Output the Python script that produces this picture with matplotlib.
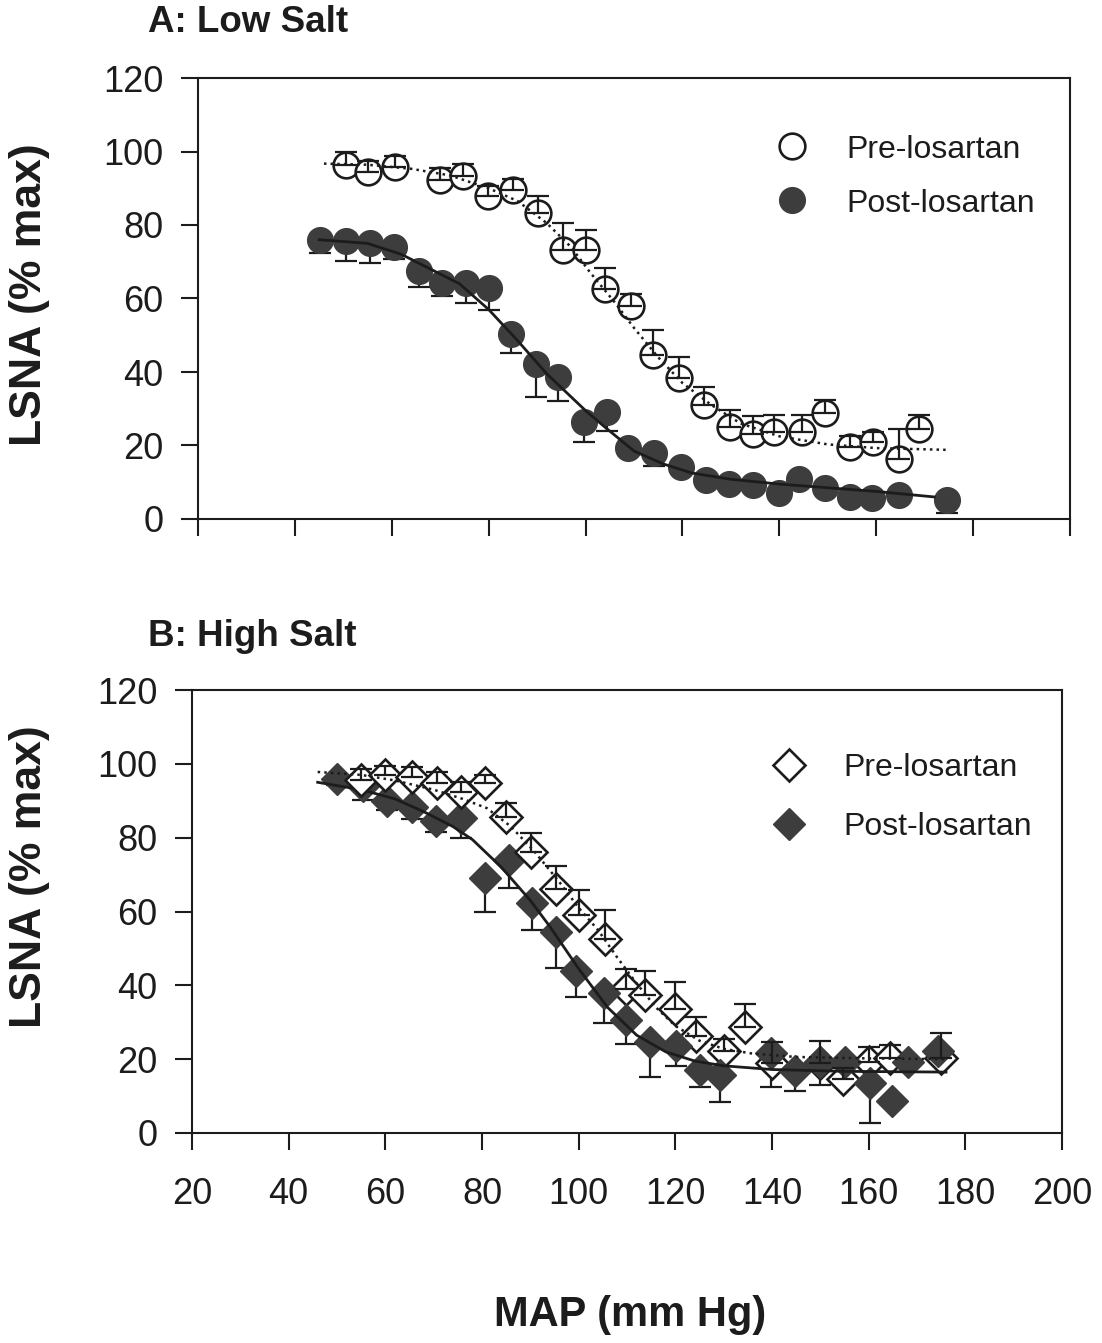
import numpy as np
import matplotlib
matplotlib.use("Agg")
from matplotlib import pyplot as plt
from matplotlib.lines import Line2D

plt.rcParams["font.family"] = ["Liberation Sans", "DejaVu Sans"]

INK = "#1c1c1c"
FILL = "#3d3d3d"

# --- A: low salt -----------------------------------------------------------
a_pre_x = [50.5, 55, 60.6, 69.9, 74.8, 79.8, 85, 90.1, 95.3, 100, 104.1, 109.3,
           114, 119.2, 124.5, 129.9, 134.6, 139, 144.7, 149.5, 154.6, 159.4, 164.7, 168.9]
a_pre_y = [96.3, 94.4, 95.8, 92.2, 93.3, 87.9, 89.5, 83.3, 73.2, 73.2, 62.6, 58,
           44.6, 38.4, 31, 25, 23.1, 23.7, 23.7, 28.8, 19.6, 21, 16.3, 24.5]
a_pre_err = [3.5, 3, 3, 3.3, 3.3, 2.7, 3, 4.5, 7.3, 5.5, 5.7, 3.3,
             6.8, 5.7, 4.9, 4.6, 5, 4.6, 4.6, 3.5, 3, 2.7, 8.2, 3.8]

a_post_x = [45.2, 50.5, 55.5, 60.4, 65.6, 70.3, 75.3, 80, 84.7, 89.7, 94.4, 99.6, 104.5,
            108.7, 114.2, 119.8, 124.9, 129.7, 134.6, 140, 144.1, 149.5, 154.6, 159.2, 164.7, 174.6]
a_post_y = [75.9, 75.6, 75.1, 74, 67.5, 64.2, 64.2, 62.9, 50.3, 42.2, 38.6, 26.4, 29.1,
            19.3, 18, 14.1, 10.6, 9.5, 9.3, 7.1, 10.9, 8.4, 6, 5.7, 6.5, 5.2]
a_post_err = [3.5, 5.4, 5.4, 3.3, 4.4, 3.5, 5.4, 6, 5.2, 9, 6.5, 5.4, 5.2,
              2, 3.5, 1.5, 1.5, 1.5, 1.5, 1.5, 1.5, 1.5, 1.5, 1.5, 1.5, 3.5]

# fitted curves
a_pre_fit_x = [46, 55, 64, 72, 80, 86, 92, 97, 101, 106, 110, 115, 120, 126, 132, 140, 150, 160, 175]
a_pre_fit_y = [96.7, 96.4, 95.3, 93.5, 90, 86.5, 80.5, 74, 67, 59, 52, 44, 37, 31, 26, 22.5, 20.3, 19.3, 18.8]
a_post_fit_x = [45, 55, 62, 68, 74, 80, 86, 92, 98, 100, 104, 110, 116, 122, 130, 140, 150, 160, 172]
a_post_fit_y = [76, 75, 72, 68, 64, 57, 48.5, 39.5, 32, 29.5, 25, 18.5, 15, 12.5, 10.8, 9.5, 8.5, 7.5, 6]

# --- B: high salt ----------------------------------------------------------
b_pre_x = [55, 60, 65.6, 70.7, 75.7, 80.6, 85, 90.1, 95.3, 100, 105.4, 109.7,
           113.8, 120, 124.3, 130.1, 134.4, 140, 150, 154.6, 160, 164.5, 175]
b_pre_y = [95.5, 97, 96.4, 94.8, 92.4, 94.8, 85.5, 76.1, 66, 59, 52.6, 39,
           37.4, 33.6, 26.3, 22.2, 28.7, 19, 19, 14.6, 19.2, 20.4, 20.4]
b_pre_err = [3, 2.3, 2.7, 3, 2.7, 2.2, 4, 5.1, 6.4, 6.7, 7.9, 5.4,
             6.5, 7.3, 5.2, 3.2, 6.2, 5.7, 6, 3, 4.2, 3.5, 6.8]

b_post_x = [49.9, 55.3, 60.4, 65.6, 70.5, 75.7, 80.6, 85.6, 90.3, 95.4, 99.4, 105.2, 109.7,
            114.8, 120.2, 125.2, 129.3, 139.8, 144.7, 149.9, 155, 160.2, 164.9, 168.1, 174.3]
b_post_y = [95.9, 93.9, 89.8, 88.2, 84.5, 85.2, 69.1, 73.9, 62.4, 54.4, 43.8, 38, 30.6,
            24.6, 23.5, 17.1, 15.7, 21.7, 16.8, 19.1, 19.2, 13.5, 8.6, 19.2, 22.2]
b_post_err = [1.5, 3.6, 2.4, 3.2, 3, 5.4, 9.2, 7.6, 7.4, 9.8, 7, 8.1, 6.5,
              9.5, 5.4, 4.7, 7.3, 9.2, 5.5, 6.1, 1.5, 10.8, 1, 1.5, 1.5]

b_pre_fit_x = [46, 55, 62, 70, 76, 81, 86, 91, 96, 100, 104, 108, 112, 116, 120, 125, 130, 136, 145, 160, 176]
b_pre_fit_y = [97.8, 97, 95.5, 93, 90.5, 88, 83, 76, 68, 61, 55, 47.5, 40.5, 34, 29, 25, 22.8, 21.5, 20.6, 20.2, 20]
b_post_fit_x = [46, 55, 62, 68, 74, 78, 84, 90, 94, 100, 106, 112, 118, 124, 130, 140, 155, 176]
b_post_fit_y = [95, 93, 90.5, 87, 83, 79.5, 72, 63, 56, 44.5, 34, 26.5, 22, 19.5, 18.2, 17.2, 16.7, 16.5]

x_ticks = list(range(20, 201, 20))
y_ticks = list(range(0, 121, 20))
legend_labels = ["Pre-losartan", "Post-losartan"]


def draw_panel(ax, pre, post, pre_fit, post_fit, marker, ms, pre_front_below):
    px, py, perr = (np.asarray(v, float) for v in pre)
    qx, qy, qerr = (np.asarray(v, float) for v in post)

    # post: dark fill, lower error bars only
    ax.errorbar(qx, qy, yerr=[qerr, 0 * qerr], fmt="none", ecolor=INK,
                elinewidth=1.6, capsize=8, capthick=1.6, zorder=2)
    ax.plot(qx, qy, ls="none", marker=marker, ms=ms, mfc=FILL, mec=FILL, zorder=3)
    ax.plot(post_fit[0], post_fit[1], "-", color=INK, lw=2.0, zorder=3.5)

    # pre: open markers, upper error bars only
    front = px < pre_front_below
    ax.plot(px[front], py[front], ls="none", marker=marker, ms=ms, mfc="white",
            mec=INK, mew=1.9, zorder=4)
    ax.plot(px[~front], py[~front], ls="none", marker=marker, ms=ms, mfc="white",
            mec=INK, mew=1.9, zorder=2.5)
    ax.errorbar(px, py, yerr=[0 * perr, perr], fmt="none", ecolor=INK,
                elinewidth=1.6, capsize=8, capthick=1.6, zorder=4.5)
    ax.plot(pre_fit[0], pre_fit[1], ":", color=INK, lw=1.8, zorder=4.6)

    ax.set_xlim(20, 200)
    ax.set_ylim(0, 120)
    ax.set_xticks(x_ticks)
    ax.set_yticks(y_ticks)
    for s in ax.spines.values():
        s.set_linewidth(1.5)
        s.set_color(INK)
    ax.tick_params(direction="out", length=12, width=1.5, color=INK,
                   labelsize=26, labelcolor=INK, top=False, right=False)
    ax.tick_params(axis="y", pad=13)
    ax.tick_params(axis="x", pad=20)

    handles = [
        Line2D([], [], ls="none", marker=marker, ms=ms, mfc="white", mec=INK, mew=1.9),
        Line2D([], [], ls="none", marker=marker, ms=ms, mfc=FILL, mec=FILL),
    ]
    return handles


fig = plt.figure(figsize=(11.02, 13.43), dpi=100)

ax_a = fig.add_axes([198 / 1102, 1 - 519 / 1343, 872 / 1102, 441 / 1343])
h_a = draw_panel(ax_a, (a_pre_x, a_pre_y, a_pre_err), (a_post_x, a_post_y, a_post_err),
                 (a_pre_fit_x, a_pre_fit_y), (a_post_fit_x, a_post_fit_y), "o", 18.5, 200)
ax_a.tick_params(axis="x", labelbottom=False)
ax_a.legend(h_a, legend_labels, loc="upper left", bbox_to_anchor=(0.645, 0.908),
            frameon=False, fontsize=23, borderpad=0, handlelength=1.0,
            handletextpad=1.2, labelspacing=0.75, labelcolor=INK)

ax_b = fig.add_axes([192 / 1102, 1 - 1133 / 1343, 870 / 1102, 443 / 1343])
h_b = draw_panel(ax_b, (b_pre_x, b_pre_y, b_pre_err), (b_post_x, b_post_y, b_post_err),
                 (b_pre_fit_x, b_pre_fit_y), (b_post_fit_x, b_post_fit_y), "D", 16.5, 105)
ax_b.legend(h_b, legend_labels, loc="upper left", bbox_to_anchor=(0.650, 0.893),
            frameon=False, fontsize=23, borderpad=0, handlelength=1.0,
            handletextpad=1.2, labelspacing=0.91, labelcolor=INK)

fig.text(148 / 1102, 1 - 22 / 1343, "A: Low Salt", ha="left", va="center",
         fontsize=26.5, fontweight="bold", color=INK)
fig.text(148 / 1102, 1 - 637 / 1343, "B: High Salt", ha="left", va="center",
         fontsize=26.5, fontweight="bold", color=INK)
fig.text(30 / 1102, 1 - 295 / 1343, "LSNA (% max)", rotation=90, ha="center", va="center",
         fontsize=32, fontweight="bold", color=INK)
fig.text(30 / 1102, 1 - 877 / 1343, "LSNA (% max)", rotation=90, ha="center", va="center",
         fontsize=32, fontweight="bold", color=INK)
fig.text(630 / 1102, 1 - 1315 / 1343, "MAP (mm Hg)", ha="center", va="center",
         fontsize=30, fontweight="bold", color=INK)

fig.savefig("out.png", dpi=100, facecolor="white")
